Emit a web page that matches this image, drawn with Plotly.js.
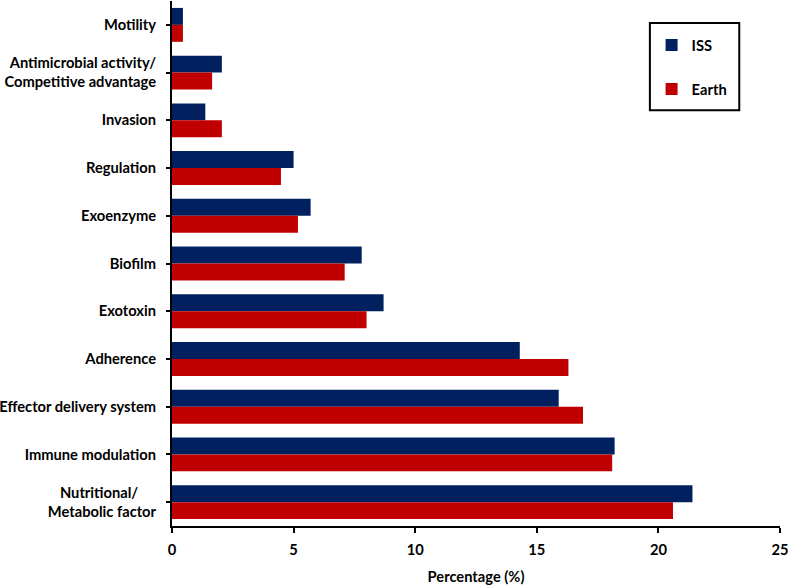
<!DOCTYPE html>
<html>
<head>
<meta charset="utf-8">
<script src="https://cdn.plot.ly/plotly-3.0.1.min.js"></script>
<style>
  html, body { margin: 0; padding: 0; background: #fff; }
  #chart { width: 788px; height: 585px; }
</style>
</head>
<body>
<div id="chart"></div>
<script>
// categories, top to bottom
const categories = [
  'Motility',
  'Antimicrobial activity/ Competitive advantage',
  'Invasion',
  'Regulation',
  'Exoenzyme',
  'Biofilm',
  'Exotoxin',
  'Adherence',
  'Effector delivery system',
  'Immune modulation',
  'Nutritional/ Metabolic factor'
];

// tick labels as printed (two-line ones centred by padding the short line)
const NB = '\u00A0';
const tickLabels = [
  'Motility',
  'Antimicrobial activity/<br>Competitive advantage',
  'Invasion',
  'Regulation',
  'Exoenzyme',
  'Biofilm',
  'Exotoxin',
  'Adherence',
  'Effector delivery system',
  'Immune modulation',
  'Nutritional/' + NB.repeat(5) + '<br>Metabolic factor'
];

// percentage of virulence factor genes
const issValues   = [0.45, 2.05, 1.37, 5.0, 5.7, 7.8, 8.7, 14.3, 15.9, 18.2, 21.4];
const earthValues = [0.45, 1.65, 2.05, 4.48, 5.18, 7.1, 8.0, 16.3, 16.9, 18.1, 20.6];

const xTicks = [0, 5, 10, 15, 20, 25];

const FONT = 'Lato, "Open Sans", sans-serif';
const FS = 14.7;

const traces = [
  {
    type: 'bar', orientation: 'h', name: 'ISS', legendgroup: 'iss',
    y: categories, x: issValues,
    marker: { color: '#002060' }
  },
  {
    type: 'bar', orientation: 'h', name: 'Earth', legendgroup: 'earth',
    y: categories, x: earthValues,
    marker: { color: '#C00000' }
  }
];

const layout = {
  width: 788,
  height: 585,
  margin: { l: 171.7, r: 8, t: 1, b: 59 },
  paper_bgcolor: '#fff',
  plot_bgcolor: '#fff',
  font: { family: FONT, size: FS, color: '#000', weight: 'bold' },
  barmode: 'group',
  bargap: 0.29,
  bargroupgap: 0,
  showlegend: true,
  legend: {
    x: 0.922, y: 0.947, xanchor: 'right', yanchor: 'top',
    bgcolor: 'rgba(0,0,0,0)', borderwidth: 0,
    traceorder: 'grouped', tracegroupgap: 22,
    font: { family: FONT, size: FS, weight: 'bold' },
    itemwidth: 30
  },
  shapes: [
    { type: 'rect', xref: 'paper', yref: 'paper',
      x0: 0.786, x1: 0.933, y0: 0.792, y1: 0.958,
      line: { color: '#000', width: 2 }, fillcolor: 'rgba(0,0,0,0)' }
  ],
  xaxis: {
    range: [0, 25],
    tickvals: xTicks,
    ticktext: xTicks.map(String),
    showgrid: false, zeroline: false,
    showline: true, linecolor: '#000', linewidth: 2,
    ticks: 'outside', ticklen: 5, tickwidth: 2, tickcolor: '#000',
    ticklabelstandoff: 4,
    ticklabeloverflow: 'allow',
    tickfont: { family: FONT, size: FS, weight: 'bold' },
    title: { text: 'Percentage (%)', standoff: 18,
             font: { family: FONT, size: FS, weight: 'bold' } },
    fixedrange: true
  },
  xaxis2: {
    overlaying: 'x', side: 'bottom', anchor: 'y',
    range: [0, 25], tickvals: xTicks,
    showticklabels: false, showgrid: false, zeroline: false, showline: false,
    ticks: 'inside', ticklen: 5, tickwidth: 2, tickcolor: '#000'
  },
  yaxis: {
    type: 'category',
    autorange: 'reversed',
    tickvals: categories,
    ticktext: tickLabels,
    showgrid: false, zeroline: false,
    showline: true, linecolor: '#000', linewidth: 2,
    ticks: 'outside', ticklen: 4, tickwidth: 2, tickcolor: '#000',
    ticklabelstandoff: 7,
    tickfont: { family: FONT, size: FS, weight: 'bold' },
    fixedrange: true
  }
};

Plotly.newPlot('chart', traces, layout, { displayModeBar: false, staticPlot: true });
</script>
</body>
</html>
